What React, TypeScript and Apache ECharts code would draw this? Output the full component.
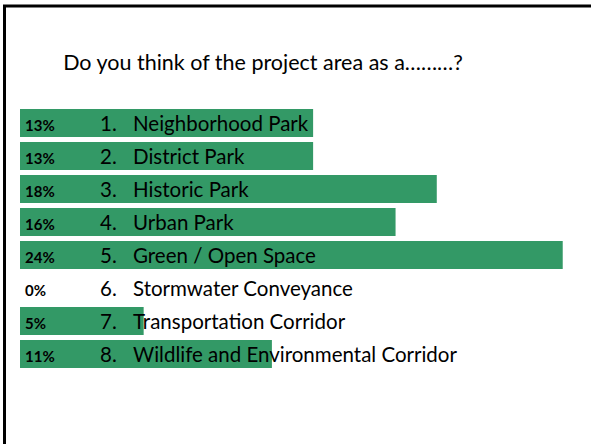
import React, { useEffect, useRef } from "react";
import * as echarts from "echarts";

const categories = [
  "Neighborhood Park",
  "District Park",
  "Historic Park",
  "Urban Park",
  "Green / Open Space",
  "Stormwater Conveyance",
  "Transportation Corridor",
  "Wildlife and Environmental Corridor",
];
const values = [12.8, 12.8, 18.2, 16.4, 23.7, 0, 5.4, 11.0];
const titleText = "Do you think of the project area as a\u2026\u2026\u2026?";

const FONT = "Lato, 'Open Sans', sans-serif";

export default function App() {
  const ref = useRef<HTMLDivElement>(null);
  useEffect(() => {
    if (!ref.current) return;
    const chart = echarts.init(ref.current, null, { renderer: "svg" });
    const pxPerPct = 22.9;
    const xMax = 24;
    const gridLeft = 20;
    const gridWidth = xMax * pxPerPct;
    chart.setOption({
      animation: false,
      backgroundColor: "#ffffff",
      graphic: [
        {
          type: "rect",
          shape: { x: 4.5, y: 6, width: 700, height: 600 },
          style: { fill: "none", stroke: "#000", lineWidth: 3 },
          silent: true,
        },
        {
          type: "text",
          x: 263,
          y: 62,
          style: {
            text: titleText,
            fontFamily: FONT,
            fontSize: 21.5,
            fill: "#000",
            textAlign: "center",
            textVerticalAlign: "middle",
          },
        },
      ],
      grid: {
        left: gridLeft,
        top: 106.5,
        width: gridWidth,
        height: 33 * categories.length,
        containLabel: false,
      },
      xAxis: {
        type: "value",
        min: 0,
        max: xMax,
        show: false,
      },
      yAxis: {
        type: "category",
        data: categories,
        inverse: true,
        axisLine: { show: false },
        axisTick: { show: false },
        splitLine: { show: false },
        z: 10,
        axisLabel: {
          inside: true,
          margin: 5,
          align: "left",
          formatter: (val: string, idx: number) =>
            `{p|${Math.round(values[idx])}%}{n|${idx + 1}.}{t|${val}}`,
          rich: {
            p: { width: 75, fontSize: 15, fontWeight: "bold", fontFamily: FONT, color: "#000", padding: [3, 0, 0, 0] },
            n: { width: 33, fontSize: 20.5, fontFamily: FONT, color: "#000" },
            t: { fontSize: 20.5, fontFamily: FONT, color: "#000" },
          },
        },
      },
      series: [
        {
          type: "bar",
          data: values,
          barCategoryGap: "15%",
          itemStyle: { color: "#339966" },
          z: 2,
        },
      ],
    });
    return () => chart.dispose();
  }, []);
  return (
    <div
      ref={ref}
      style={{ position: "absolute", left: 0, top: 0, width: 591, height: 444 }}
    />
  );
}
